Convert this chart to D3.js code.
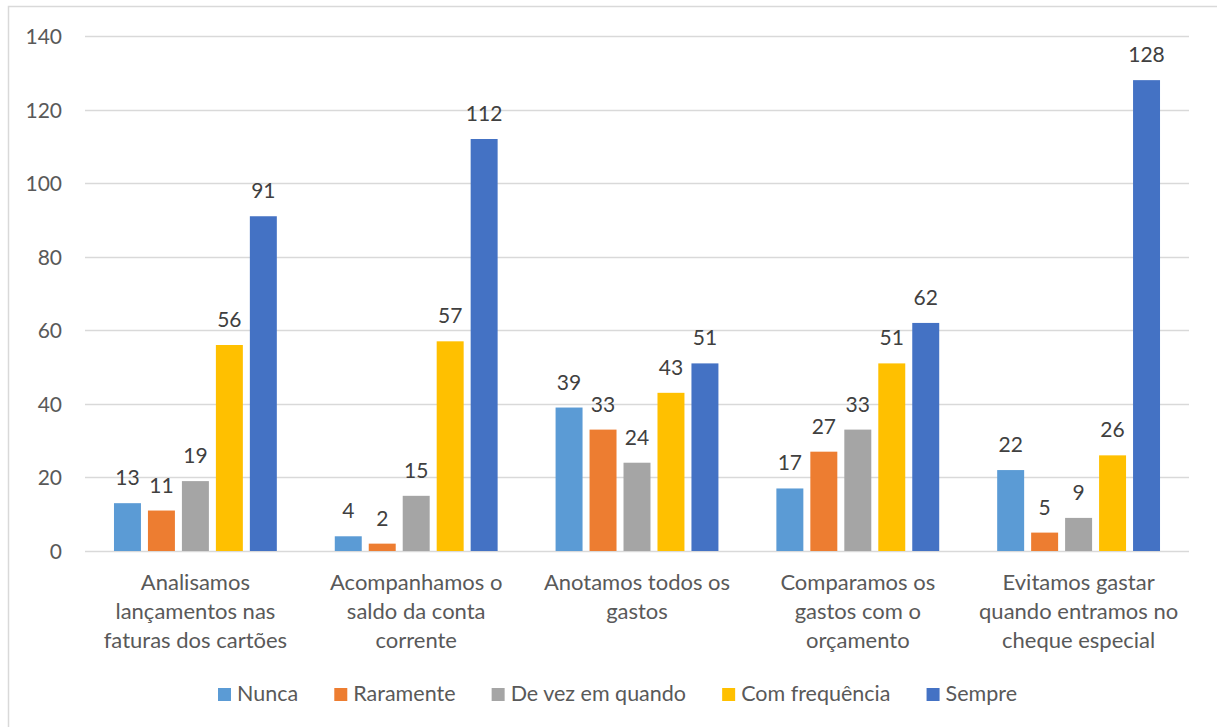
<!DOCTYPE html>
<html>
<head>
<meta charset="utf-8">
<script src="https://cdn.jsdelivr.net/npm/d3@7"></script>
<style>
  html, body { margin: 0; padding: 0; background: #ffffff; }
  svg { display: block; }
  text { font-family: Lato, "Open Sans", "Liberation Sans", sans-serif; }
</style>
</head>
<body>
<svg id="chart" width="1217" height="727"></svg>
<script>
// Question categories (line breaks as shown under each group)
const categories = [
  "Analisamos\nlançamentos nas\nfaturas dos cartões",
  "Acompanhamos o\nsaldo da conta\ncorrente",
  "Anotamos todos os\ngastos",
  "Comparamos os\ngastos com o\norçamento",
  "Evitamos gastar\nquando entramos no\ncheque especial"
];

// Answer frequency series
const seriesNames = ["Nunca", "Raramente", "De vez em quando", "Com frequência", "Sempre"];
const seriesColors = ["#5B9BD5", "#ED7D31", "#A5A5A5", "#FFC000", "#4472C4"];

const nunca        = [13, 4, 39, 17, 22];
const raramente    = [11, 2, 33, 27, 5];
const deVezEmQuando = [19, 15, 24, 33, 9];
const comFrequencia = [56, 57, 43, 51, 26];
const sempre       = [91, 112, 51, 62, 128];

const yTicks = [0, 20, 40, 60, 80, 100, 120, 140];

const seriesValues = [nunca, raramente, deVezEmQuando, comFrequencia, sempre];

const svg = d3.select("#chart");

// Outer chart frame
svg.append("rect")
  .attr("x", 8.5).attr("y", 6.5)
  .attr("width", 1220).attr("height", 740)
  .attr("fill", "none")
  .attr("stroke", "#D9D9D9")
  .attr("stroke-width", 1.5);

const plot = { left: 85, right: 1189, top: 36, bottom: 551 };

const y = d3.scaleLinear().domain([0, 140]).range([plot.bottom, plot.top]);

const x0 = d3.scaleBand()
  .domain(d3.range(categories.length))
  .range([plot.left, plot.right])
  .paddingInner(0).paddingOuter(0);

const x1 = d3.scaleBand()
  .domain(d3.range(seriesNames.length))
  .range([0, x0.bandwidth()])
  .paddingInner(0.206)
  .paddingOuter(0.853);

// Horizontal gridlines
svg.append("g")
  .selectAll("line")
  .data(yTicks)
  .join("line")
  .attr("x1", plot.left).attr("x2", plot.right)
  .attr("y1", d => Math.round(y(d)) + 0.5)
  .attr("y2", d => Math.round(y(d)) + 0.5)
  .attr("stroke", "#D9D9D9")
  .attr("stroke-width", 1.5);

// Y axis labels
const yAxis = d3.axisLeft(y).tickValues(yTicks).tickSize(0).tickPadding(0);
const gy = svg.append("g")
  .attr("transform", `translate(62,0)`)
  .call(yAxis);
gy.select(".domain").remove();
gy.selectAll("text")
  .attr("fill", "#595959")
  .style("font-size", "21px")
  .attr("dy", "0.36em");

// Bars
const groups = svg.append("g")
  .selectAll("g")
  .data(categories.map((c, i) => i))
  .join("g")
  .attr("transform", i => `translate(${x0(i)},0)`);

groups.selectAll("rect")
  .data(i => seriesValues.map((vals, s) => ({ s, v: vals[i] })))
  .join("rect")
  .attr("x", d => x1(d.s))
  .attr("width", x1.bandwidth())
  .attr("y", d => y(d.v))
  .attr("height", d => y(0) - y(d.v))
  .attr("fill", d => seriesColors[d.s]);

// Value labels above bars
groups.selectAll("text.value")
  .data(i => seriesValues.map((vals, s) => ({ s, v: vals[i] })))
  .join("text")
  .attr("class", "value")
  .attr("x", d => x1(d.s) + x1.bandwidth() / 2)
  .attr("y", d => y(d.v) - 18)
  .attr("text-anchor", "middle")
  .attr("fill", "#404040")
  .style("font-size", "21px")
  .text(d => d.v);

// Category labels under each group
const catLabels = svg.append("g")
  .selectAll("text")
  .data(categories)
  .join("text")
  .attr("text-anchor", "middle")
  .attr("fill", "#595959")
  .style("font-size", "22px")
  .attr("transform", (d, i) => `translate(${x0(i) + x0.bandwidth() / 2},590)`);

catLabels.selectAll("tspan")
  .data(d => d.split("\n"))
  .join("tspan")
  .attr("x", 0)
  .attr("y", (d, k) => k * 29)
  .text(d => d);

// Legend
const legendStart = 218, legendEnd = 1017, sw = 13, swGap = 6;
const legend = svg.append("g");
const items = legend.selectAll("g")
  .data(seriesNames)
  .join("g");
items.append("rect")
  .attr("width", sw).attr("height", sw)
  .attr("y", 688)
  .attr("fill", (d, i) => seriesColors[i]);
items.append("text")
  .attr("x", sw + swGap)
  .attr("y", 701)
  .attr("fill", "#595959")
  .style("font-size", "21.5px")
  .text(d => d);

const widths = [];
items.selectAll("text").each(function () { widths.push(this.getComputedTextLength()); });
const totalW = d3.sum(widths) + seriesNames.length * (sw + swGap);
const itemGap = (legendEnd - legendStart - totalW) / (seriesNames.length - 1);
let cx = legendStart;
items.each(function (d, i) {
  d3.select(this).attr("transform", `translate(${cx},0)`);
  cx += sw + swGap + widths[i] + itemGap;
});
</script>
</body>
</html>
